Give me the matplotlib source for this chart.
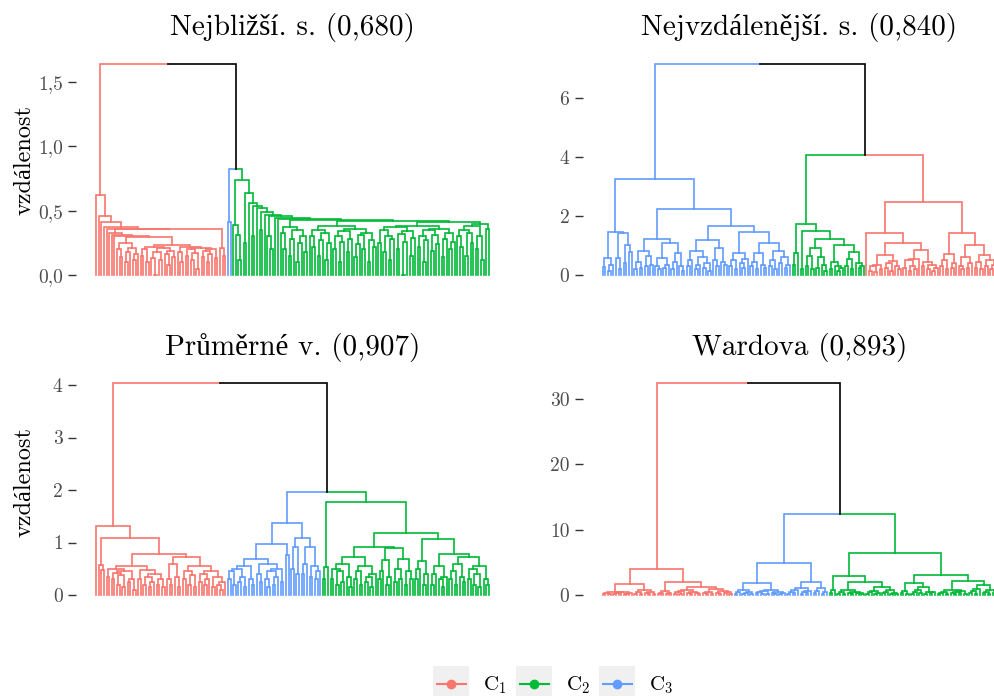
import matplotlib
matplotlib.use('Agg')
import matplotlib.pyplot as plt
from matplotlib.collections import LineCollection
from matplotlib.patches import Rectangle
from matplotlib.lines import Line2D

plt.rcParams['font.family'] = ['cmr10', 'Liberation Serif']
plt.rcParams['mathtext.fontset'] = 'cm'
plt.rcParams['axes.formatter.use_mathtext'] = True

W, H = 995, 696
COLORS = {1: '#F8766D', 2: '#00BA38', 3: '#619CFF'}
LEGEND_LABELS = ['$\\mathrm{C}_1$', '$\\mathrm{C}_2$', '$\\mathrm{C}_3$']

titles = ['Nejbližší. s. (0,680)', 'Nejvzdálenější. s. (0,840)',
          'Průměrné v. (0,907)', 'Wardova (0,893)']

# merge height between neighbouring leaves (leaf i and i+1), in leaf order
single_gaps = [
    0.62, 0.46, 0.41, 0.37, 0.36,
    0.33, 0.31, 0.30,
    0.20, 0.14, 0.25, 0.10, 0.18, 0.21, 0.12, 0.16,
    0.297,
    0.15, 0.20, 0.10, 0.22, 0.13, 0.00, 0.18, 0.12, 0.21, 0.16, 0.08, 0.19, 0.14,
    0.235,
    0.18, 0.10, 0.22, 0.15, 0.20, 0.12, 0.17, 0.05, 0.21, 0.14, 0.19, 0.10, 0.16, 0.20, 0.13,
    0.354, 0.21, 0.15,
    1.636, 0.41, 0.82,
    0.39, 0.31, 0.12, 0.736, 0.25, 0.64, 0.556, 0.30, 0.54, 0.517, 0.35, 0.49, 0.47,
    0.30, 0.20, 0.455, 0.44, 0.434,
    0.33, 0.20, 0.37, 0.15, 0.28, 0.35, 0.10, 0.25, 0.30, 0.18,
    0.425,
    0.30, 0.22, 0.35, 0.15, 0.27, 0.33, 0.12, 0.25, 0.38, 0.20, 0.30, 0.10, 0.26,
    0.34, 0.18, 0.28, 0.36, 0.14, 0.24, 0.31, 0.20, 0.33, 0.10, 0.27, 0.22,
    0.418,
    0.25, 0.35, 0.18, 0.30, 0.12, 0.28, 0.37, 0.20, 0.32, 0.00, 0.26, 0.34, 0.15,
    0.29, 0.38, 0.22, 0.30, 0.10, 0.27, 0.35, 0.19, 0.31, 0.24, 0.36, 0.14, 0.28,
    0.33, 0.20, 0.26,
    0.41,
    0.30, 0.22, 0.35, 0.15, 0.33, 0.25, 0.38, 0.20, 0.30, 0.12,
    0.40, 0.36]
single_sizes = [(1, 50), (3, 2), (2, 98)]

complete_gaps = [
    0.28, 0.56, 0.15, 0.34, 1.47, 0.56, 0.20, 1.41, 0.40, 1.02, 0.79, 3.24,
    0.20, 0.43, 0.25, 0.82, 0.30, 0.66, 0.35, 1.22,
    0.30, 0.20, 0.56, 0.25, 0.35, 1.07, 0.20, 0.45, 0.75, 0.30, 0.15, 2.25,
    0.30, 0.50, 0.80, 0.20, 0.35, 0.60, 0.25, 0.40, 0.15, 1.19,
    0.50, 0.30, 0.93, 0.45, 0.35, 1.67,
    0.30, 0.50, 0.20, 0.76, 0.40, 0.25, 0.55, 1.47,
    0.30, 0.45, 0.20, 0.73, 0.35, 0.25, 1.10,
    0.30, 0.50, 0.20, 0.80, 0.40, 0.60, 0.25, 0.35,
    7.15,
    0.35, 0.73, 1.73, 0.20, 1.48, 0.30, 0.63, 0.20, 0.92, 0.25, 0.62, 0.35, 0.15, 1.23,
    0.20, 0.45, 0.30, 0.15, 0.25, 1.03, 0.30, 0.55, 0.20, 0.79, 0.40, 0.25, 0.30,
    4.07,
    1.43, 0.15, 0.30, 0.10, 0.35, 0.20, 0.67, 0.25, 0.40, 0.15, 0.49, 0.30, 0.20,
    1.10, 0.25, 0.50, 0.15, 0.30, 0.20, 0.55, 0.85, 0.30, 0.45, 0.20, 0.35, 0.15, 0.25,
    2.48, 0.30, 0.50, 0.20, 0.71, 0.25, 0.40,
    1.43, 0.30, 0.20, 0.62, 0.25, 0.40,
    1.02, 0.25, 0.45, 0.20, 0.67, 0.30, 0.50, 0.20, 0.35]
complete_sizes = [(3, 72), (2, 28), (1, 50)]

average_gaps = [
    1.31, 0.57, 0.48, 1.08,
    0.35, 0.50, 0.30, 0.42, 0.20, 0.38, 0.15, 0.45, 0.25, 0.30, 0.10, 0.56, 0.30, 0.48,
    0.20, 0.35, 0.15, 0.25, 0.40, 0.20, 0.30, 0.15,
    0.78, 0.30, 0.20, 0.59, 0.35, 0.15, 0.73,
    0.30, 0.45, 0.20, 0.38, 0.15, 0.55, 0.25, 0.40, 0.20, 0.30, 0.45, 0.15, 0.35, 0.20,
    0.10, 0.25,
    4.03,
    0.30, 0.45, 0.20, 0.50, 0.25, 0.35, 0.15, 0.55, 0.30, 0.20, 0.69, 0.40, 0.25, 0.60,
    0.30, 0.15, 0.45, 0.20, 0.35, 0.50, 0.25,
    0.98, 0.76, 1.38, 0.50, 0.91, 0.40, 1.09,
    0.40, 0.60, 0.91, 0.35, 0.55, 0.30, 0.45,
    1.96,
    0.30, 0.54, 1.78,
    0.30, 0.50, 0.20, 0.45, 0.25, 0.60, 0.35, 0.15, 0.73, 0.30, 0.45, 0.20, 0.55, 0.25,
    0.35, 0.15, 0.40,
    0.92, 0.30, 0.45, 0.66, 0.20, 0.35, 0.90, 0.25, 0.50, 0.30, 0.68, 0.20, 0.45, 0.30,
    1.19, 0.30, 0.50, 0.65, 0.20, 0.40,
    1.07, 0.20, 0.40, 0.56, 0.30, 0.15, 0.35,
    0.79, 0.30, 0.45, 0.20, 0.60, 0.35, 0.25, 0.72, 0.30, 0.50, 0.20, 0.40, 0.15, 0.55,
    0.30, 0.20]
average_sizes = [(1, 50), (3, 36), (2, 64)]

ward_gaps = [
    0.20, 0.35, 0.10, 0.50, 0.15, 0.30, 0.25, 0.40, 0.10, 0.20, 0.30,
    1.63, 0.20, 0.40, 0.15, 0.77, 0.30, 0.10, 0.45, 0.20,
    3.93, 0.20, 0.35, 0.66, 0.15, 0.30,
    2.04, 0.20, 0.40, 0.10, 0.55, 0.75, 0.25, 0.15, 0.45, 0.30, 0.20,
    1.27, 0.30, 0.15, 0.50, 0.20, 0.90, 0.35, 0.10, 0.60, 0.25, 0.40, 0.15,
    32.4,
    0.20, 0.40, 0.77, 0.15, 0.30, 0.50, 0.10,
    1.88, 0.25, 0.45, 0.10, 0.60, 0.20, 0.80, 0.30, 0.15, 0.50, 0.20, 0.35,
    4.95, 0.20, 0.50, 0.30, 0.75, 1.10, 0.15, 0.40, 0.25, 0.60,
    2.04, 0.30, 0.60, 1.00, 0.20, 0.40,
    12.35,
    0.30, 0.77, 2.95,
    0.20, 0.40, 0.15, 0.77, 0.30, 0.10, 0.50, 0.25, 0.35, 0.20,
    2.04, 0.20, 0.40, 0.60, 0.15, 0.30,
    1.27, 0.25, 0.50, 0.80, 0.20, 0.35, 0.15,
    6.48, 0.30, 0.60, 0.20,
    1.88, 0.20, 0.45, 0.80, 0.30, 1.27, 0.15, 0.50, 0.25, 0.40,
    3.10, 0.20, 0.35, 0.50, 0.15, 0.77, 0.30, 0.10, 0.45, 0.25, 0.60, 0.20,
    2.19, 0.30, 0.60, 0.20, 0.90, 1.53, 0.25, 0.50, 0.15, 0.70, 0.35]
ward_sizes = [(1, 50), (3, 36), (2, 64)]

y_ticks = [[0.0, 0.5, 1.0, 1.5], [0, 2, 4, 6], [0, 1, 2, 3, 4], [0, 10, 20, 30]]
y_ticklabels = [['0,0', '0,5', '1,0', '1,5'], ['0', '2', '4', '6'],
                ['0', '1', '2', '3', '4'], ['0', '10', '20', '30']]

panels = [
    (single_gaps, single_sizes),
    (complete_gaps, complete_sizes),
    (average_gaps, average_sizes),
    (ward_gaps, ward_sizes),
]

# layout in pixels: (left, right, top, bottom, y-pixel of zero, pixels per unit)
boxes = [
    (76.3, 508.7, 54, 286, 275, 128.7),
    (583.0, 1015.4, 54, 286, 275, 29.5),
    (76.3, 508.7, 373, 606, 595, 52.5),
    (583.0, 1015.4, 373, 606, 595, 6.53),
]
LEAF_SP = 2.6376
LEAF_OFF = 19.7


def build(g, lo, hi, clus, segs, cols):
    if lo == hi:
        return lo + 1.0, 0.0, {clus[lo]}
    sub = g[lo:hi]
    k = lo + sub.index(max(sub))
    left = build(g, lo, k, clus, segs, cols)
    right = build(g, k + 1, hi, clus, segs, cols)
    h = g[k]
    x = (left[0] + right[0]) / 2.0
    for cx, ch, cc in (left, right):
        c = COLORS[next(iter(cc))] if len(cc) == 1 else 'black'
        segs.append([(cx, ch), (cx, h), (x, h)])
        cols.append(c)
    return x, h, left[2] | right[2]


fig = plt.figure(figsize=(W / 100, H / 100), dpi=100)

for i, ((gaps, sizes), box) in enumerate(zip(panels, boxes)):
    l, r, t, b, y0, ppu = box
    ax = fig.add_axes([l / W, 1 - b / H, (r - l) / W, (b - t) / H])
    clus = []
    for c, n in sizes:
        clus += [c] * n
    n = len(clus)
    assert len(gaps) == n - 1, (i, len(gaps))
    segs, cols = [], []
    build(gaps, 0, n - 1, clus, segs, cols)
    lc = LineCollection(segs, colors=cols, linewidths=1.2,
                        joinstyle='miter', capstyle='projecting')
    ax.add_collection(lc)
    x0 = 1 - LEAF_OFF / LEAF_SP
    ax.set_xlim(x0, x0 + (r - l) / LEAF_SP)
    ax.set_ylim((y0 - b) / ppu, (y0 - t) / ppu)
    for s in ax.spines.values():
        s.set_visible(False)
    ax.set_xticks([])
    ax.set_yticks(y_ticks[i])
    ax.set_yticklabels(y_ticklabels[i])
    ax.tick_params(axis='y', direction='out', length=5.8, width=1.0,
                   color='#333333', labelcolor='#4D4D4D', labelsize=14, pad=4)
    ax.set_facecolor('white')
    cx = (l + r) / 2
    ty = 27 if i < 2 else 347
    fig.text(cx / W, 1 - ty / H, titles[i], ha='center', va='center', fontsize=21)

fig.text(24 / W, 1 - 160 / H, 'vzdálenost', rotation=90, ha='center', va='center', fontsize=17.5)
fig.text(24 / W, 1 - 482 / H, 'vzdálenost', rotation=90, ha='center', va='center', fontsize=17.5)

# legend
key_x = [433, 516, 599]
for kx, (ci, lab) in zip(key_x, zip([1, 2, 3], LEGEND_LABELS)):
    fig.patches.append(Rectangle((kx / W, 1 - 700 / H), 36 / W, 34 / H,
                                 transform=fig.transFigure, facecolor='#F0F0F0',
                                 edgecolor='none'))
    fig.lines.append(Line2D([(kx + 4) / W, (kx + 33) / W], [1 - 684 / H, 1 - 684 / H],
                            transform=fig.transFigure, color=COLORS[ci], lw=1.5,
                            marker=None))
    fig.lines.append(Line2D([(kx + 18.5) / W], [1 - 684 / H], transform=fig.transFigure,
                            color=COLORS[ci], marker='o', markersize=6, lw=0))
    fig.text((kx + 50) / W, 1 - 685 / H, lab, ha='left', va='center', fontsize=15)

fig.savefig('out.png', dpi=100, facecolor='white')
